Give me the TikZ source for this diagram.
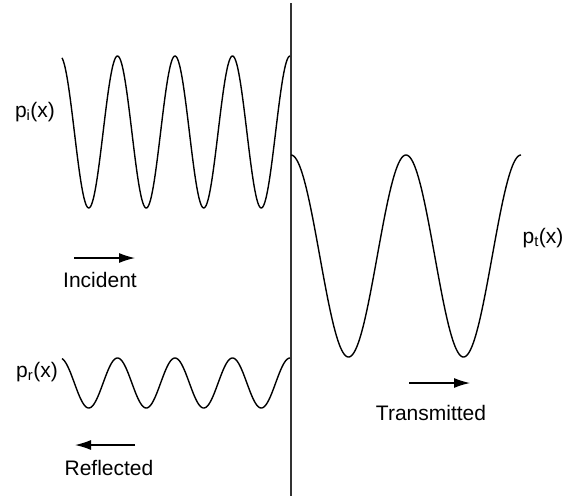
\documentclass[tikz,border=0pt]{standalone}
\usepackage{fontspec}
\setmainfont{Liberation Sans}
\usetikzlibrary{arrows.meta,positioning}

\begin{document}
\begin{tikzpicture}[
  x=1pt, y=-1pt,
  wave/.style={line width=1.4pt, line join=round},
  wall/.style={line width=2pt, black!80},
  arrow/.style={-{Latex[length=16pt,width=10pt]}, line width=1.3pt},
  lbl/.style={font=\fontsize{21}{25}\selectfont, inner sep=0pt}
]
\useasboundingbox (0,0) rectangle (572,498);
% boundary
\coordinate (wtop) at (291,3);
\coordinate (wbot) at (291,496);
\draw[wall] (wtop) -- (wbot);
% waves
\draw[wave] plot[domain=62:290, samples=300, smooth] (\x, {132 - 76*cos(360/57.5*(\x-290))});
\draw[wave] plot[domain=62:290, samples=300, smooth] (\x, {383 - 25*cos(360/57.5*(\x-290))});
\draw[wave] plot[domain=291:521, samples=300, smooth] (\x, {256 - 101*cos(360/115*(\x-291))});
% labels
\node[lbl] (pi) at (35,112) {p\textsubscript{i}(x)};
\node[lbl] (pr) at (37,372) {p\textsubscript{r}(x)};
\node[lbl] (pt) at (543,238) {p\textsubscript{t}(x)};
% direction arrows
\coordinate (inca) at (74,258);
\coordinate (incb) at (135,258);
\draw[arrow] (inca) -- (incb);
\node[lbl, anchor=base] (inc) at (100,287) {Incident};
\coordinate (refa) at (135,445);
\coordinate (refb) at (75,445);
\draw[arrow] (refa) -- (refb);
\node[lbl, anchor=base] (ref) at (109,475) {Reflected};
\coordinate (tra) at (409,383);
\coordinate (trb) at (470,383);
\draw[arrow] (tra) -- (trb);
\node[lbl, anchor=base] (tra-l) at (431,420) {Transmitted};
\end{tikzpicture}
\end{document}
